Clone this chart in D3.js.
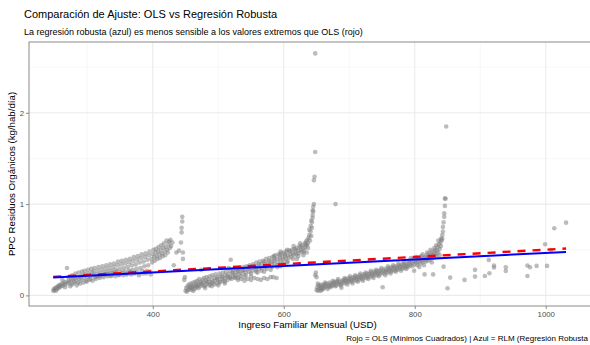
<!DOCTYPE html>
<html><head><meta charset="utf-8">
<script src="https://cdn.jsdelivr.net/npm/d3@7"></script>
<style>
html,body{margin:0;padding:0;background:#fff;}
svg{display:block;font-family:"Liberation Sans",Arial,sans-serif;}
</style></head>
<body><svg id="c" width="590" height="345"></svg>
<script>
// ---- data ----
const titleText = "Comparación de Ajuste: OLS vs Regresión Robusta";
const subtitleText = "La regresión robusta (azul) es menos sensible a los valores extremos que OLS (rojo)";
const xTitle = "Ingreso Familiar Mensual (USD)";
const yTitle = "PPC Residuos Orgánicos (kg/hab/día)";
const captionText = "Rojo = OLS (Mínimos Cuadrados) | Azul = RLM (Regresión Robusta";
const xTicks = [400, 600, 800, 1000];
const xMinor = [300, 500, 700, 900];
const yTicks = [0, 1, 2];
const yMinor = [0.5, 1.5, 2.5];
const xDomain = [211, 1070];
const yDomain = [-0.116, 2.775];

const group1 = [[248,0.05],[249,0.07],[250,0.06],[251,0.08],[252,0.05],[253,0.09],[254,0.07],[255,0.10],[256,0.08],[257,0.11],[258,0.09],[259,0.12],[260,0.10],[262,0.13],[263,0.11],[265,0.14],[266,0.12],[268,0.15],[269,0.30],[270,0.13],[272,0.16],[273,0.14],[275,0.17],[276,0.12],[278,0.18],[280,0.15],[281,0.19],[283,0.16],[285,0.20],[286,0.14],[288,0.18],[290,0.21],[291,0.17],[293,0.22],[295,0.19],[297,0.23],[298,0.16],[300,0.20],[302,0.24],[304,0.21],[305,0.18],[307,0.25],[309,0.22],[310,0.26],[312,0.20],[314,0.23],[316,0.27],[318,0.21],[320,0.24],[322,0.28],[324,0.22],[326,0.25],[328,0.29],[330,0.23],[332,0.26],[334,0.30],[336,0.21],[338,0.27],[340,0.31],[342,0.24],[344,0.28],[346,0.33],[348,0.22],[350,0.29],[352,0.34],[354,0.25],[356,0.30],[358,0.35],[360,0.23],[362,0.31],[364,0.36],[366,0.26],[368,0.33],[370,0.38],[372,0.24],[374,0.34],[376,0.39],[378,0.25],[380,0.36],[382,0.41],[384,0.27],[386,0.37],[388,0.42],[390,0.24],[392,0.39],[394,0.44],[396,0.26],[398,0.40],[400,0.45],[402,0.42],[404,0.47],[406,0.43],[408,0.48],[410,0.45],[412,0.50],[414,0.46],[416,0.52],[418,0.48],[420,0.53],[422,0.50],[424,0.56],[425,0.59],[427,0.61],[428,0.54],[430,0.58],[432,0.33],[436,0.47],[440,0.49],[443,0.58],[444,0.69],[444,0.74],[445,0.81],[445,0.86],[446,0.47],[446,0.40]];
const group1b = [[262,0.17],[266,0.09],[271,0.20],[274,0.10],[277,0.22],[279,0.13],[282,0.24],[284,0.11],[287,0.25],[289,0.13],[292,0.26],[294,0.14],[296,0.27],[299,0.15],[301,0.28],[303,0.17],[306,0.29],[308,0.16],[311,0.30],[313,0.18],[315,0.21],[317,0.31],[319,0.19],[321,0.22],[323,0.32],[325,0.20],[327,0.23],[329,0.33],[331,0.21],[333,0.24],[335,0.34],[337,0.22],[339,0.25],[341,0.35],[343,0.21],[345,0.26],[347,0.37],[349,0.23],[351,0.25],[353,0.38],[355,0.22],[357,0.26],[359,0.39],[361,0.24],[363,0.27],[365,0.40],[367,0.23],[369,0.28],[371,0.42],[373,0.25],[375,0.29],[377,0.43],[379,0.22],[381,0.30],[383,0.45],[385,0.24],[387,0.32],[389,0.46],[391,0.27],[393,0.33],[395,0.48],[397,0.23],[399,0.36],[401,0.50],[403,0.38],[405,0.51],[407,0.40],[409,0.53],[411,0.41],[413,0.55],[415,0.43],[417,0.57],[419,0.44],[421,0.60],[423,0.47],[426,0.52]];

const group2 = [[448,0.17],[449,0.20],[450,0.05],[451,0.08],[452,0.04],[453,0.10],[454,0.06],[455,0.12],[456,0.07],[457,0.09],[458,0.13],[459,0.06],[460,0.11],[461,0.08],[462,0.14],[463,0.10],[464,0.07],[465,0.15],[466,0.12],[467,0.09],[468,0.16],[469,0.11],[470,0.13],[471,0.18],[472,0.10],[473,0.15],[474,0.28],[475,0.12],[476,0.17],[477,0.14],[478,0.19],[480,0.11],[481,0.16],[482,0.20],[483,0.13],[485,0.18],[486,0.15],[487,0.21],[488,0.12],[490,0.17],[491,0.22],[492,0.14],[494,0.19],[495,0.16],[496,0.23],[498,0.13],[499,0.20],[500,0.17],[502,0.24],[503,0.15],[504,0.21],[506,0.18],[507,0.25],[508,0.16],[510,0.22],[511,0.19],[512,0.26],[514,0.17],[515,0.23],[516,0.30],[517,0.20],[518,0.27],[519,0.39],[520,0.18],[521,0.24],[522,0.21],[523,0.28],[525,0.19],[526,0.25],[527,0.22],[528,0.29],[530,0.17],[531,0.26],[532,0.23],[533,0.30],[535,0.18],[536,0.27],[537,0.24],[538,0.31],[540,0.16],[541,0.28],[542,0.25],[543,0.32],[545,0.18],[546,0.29],[547,0.26],[548,0.33],[550,0.17],[551,0.30],[552,0.27],[553,0.34],[555,0.19],[556,0.31],[557,0.28],[558,0.36],[560,0.18],[561,0.32],[562,0.29],[563,0.37],[565,0.17],[566,0.34],[567,0.30],[568,0.38],[570,0.19],[571,0.35],[572,0.31],[573,0.40],[575,0.18],[576,0.36],[577,0.33],[578,0.41],[580,0.20],[581,0.37],[582,0.34],[583,0.42],[584,0.20],[585,0.38],[586,0.35],[587,0.44],[589,0.19],[590,0.40],[591,0.36],[592,0.45],[594,0.41],[595,0.38],[596,0.46],[598,0.42],[599,0.39],[600,0.47],[602,0.43],[603,0.40],[604,0.48],[606,0.44],[607,0.41],[608,0.49],[610,0.45],[611,0.42],[612,0.50],[614,0.46],[615,0.44],[616,0.51],[618,0.47],[619,0.45],[620,0.52],[620,0.40],[622,0.49],[623,0.46],[624,0.54],[626,0.50],[627,0.48],[628,0.55],[630,0.52],[630,0.44],[631,0.49],[632,0.57],[633,0.53],[634,0.59],[635,0.55],[635,0.47],[636,0.61],[637,0.57],[638,0.63],[639,0.66],[640,0.60],[641,0.70],[642,0.65],[643,0.74],[643,0.80],[644,0.85],[644,0.88],[645,0.92],[645,0.97],[646,1.00],[646,1.26],[647,1.30],[648,1.57],[648,2.65]];
const group2b = [[458,0.09],[462,0.05],[466,0.10],[470,0.08],[474,0.13],[478,0.10],[482,0.15],[486,0.11],[490,0.14],[494,0.12],[498,0.18],[502,0.14],[506,0.20],[510,0.15],[514,0.21],[518,0.19],[522,0.25],[526,0.20],[530,0.27],[534,0.21],[538,0.28],[542,0.22],[546,0.31],[550,0.24],[554,0.32],[558,0.26],[562,0.34],[566,0.27],[570,0.37],[574,0.29],[578,0.38],[582,0.31],[586,0.40],[590,0.33],[594,0.44],[598,0.35],[602,0.45],[606,0.37],[610,0.48],[614,0.40],[618,0.50],[622,0.43],[626,0.53],[630,0.47],[634,0.56],[637,0.52],[639,0.72],[641,0.76],[642,0.82],[644,0.93]];
const group2c = [[480,0.08],[490,0.10],[500,0.11],[510,0.13],[530,0.19],[540,0.20],[550,0.21],[560,0.25],[570,0.26],[580,0.28],[585,0.43],[590,0.31],[595,0.32],[595,0.48],[600,0.34],[605,0.36],[605,0.50],[615,0.54],[625,0.57]];

const group3 = [[648,0.22],[649,0.25],[650,0.06],[650,0.20],[651,0.09],[652,0.05],[653,0.11],[654,0.07],[655,0.10],[656,0.08],[657,0.12],[658,0.06],[659,0.09],[660,0.11],[661,0.08],[662,0.12],[664,0.10],[665,0.13],[666,0.09],[668,0.12],[669,0.10],[670,0.14],[672,0.11],[673,0.13],[674,0.10],[676,0.14],[677,0.12],[678,0.15],[679,1.00],[680,0.11],[681,0.14],[682,0.16],[684,0.13],[685,0.15],[686,0.12],[688,0.085],[689,0.16],[690,0.14],[691,0.17],[692,0.13],[694,0.16],[695,0.18],[696,0.14],[698,0.17],[699,0.15],[700,0.19],[702,0.16],[703,0.18],[704,0.15],[706,0.20],[707,0.17],[708,0.19],[710,0.16],[711,0.21],[712,0.18],[714,0.20],[715,0.17],[716,0.22],[718,0.19],[719,0.21],[720,0.18],[722,0.23],[723,0.20],[724,0.22],[726,0.19],[727,0.24],[728,0.21],[730,0.23],[731,0.20],[732,0.25],[734,0.22],[735,0.24],[736,0.21],[738,0.26],[739,0.23],[740,0.25],[742,0.22],[743,0.27],[744,0.24],[746,0.26],[747,0.23],[748,0.28],[750,0.25],[751,0.09],[752,0.27],[753,0.24],[754,0.29],[756,0.26],[757,0.28],[758,0.25],[760,0.30],[761,0.27],[762,0.29],[764,0.26],[765,0.31],[766,0.28],[768,0.30],[769,0.27],[770,0.32],[772,0.29],[773,0.31],[774,0.28],[776,0.33],[777,0.30],[778,0.32],[780,0.29],[781,0.34],[782,0.31],[784,0.33],[785,0.30],[786,0.35],[788,0.32],[789,0.34],[790,0.31],[792,0.36],[793,0.33],[794,0.41],[795,0.35],[796,0.32],[797,0.37],[799,0.27],[800,0.34],[801,0.38],[802,0.36],[804,0.33],[805,0.39],[806,0.37],[808,0.35],[809,0.40],[810,0.43],[811,0.38],[812,0.36],[813,0.41],[815,0.23],[815,0.39],[816,0.42],[817,0.37],[818,0.44],[819,0.40],[820,0.38],[821,0.43],[822,0.46],[823,0.41],[824,0.39],[825,0.45],[826,0.42],[827,0.48],[828,0.23],[828,0.44],[829,0.41],[830,0.47],[831,0.50],[832,0.45],[833,0.43],[834,0.49],[835,0.53],[836,0.47],[837,0.56],[838,0.51],[839,0.58],[840,0.54],[840,0.62],[841,0.60],[842,0.66],[843,0.70],[843,0.75],[844,0.315],[844,0.80],[845,0.86],[845,0.90],[846,0.98],[846,1.06],[847,1.06],[848,1.85]];
const group3b = [[652,0.13],[656,0.05],[660,0.07],[663,0.14],[667,0.07],[671,0.09],[675,0.16],[679,0.10],[683,0.18],[687,0.11],[693,0.19],[697,0.12],[701,0.21],[705,0.13],[709,0.22],[713,0.15],[717,0.24],[721,0.16],[725,0.25],[729,0.18],[733,0.27],[737,0.19],[741,0.28],[745,0.21],[749,0.30],[755,0.22],[759,0.32],[763,0.24],[767,0.33],[771,0.26],[775,0.35],[779,0.27],[783,0.36],[787,0.29],[791,0.38],[798,0.40],[803,0.42],[807,0.31],[812,0.45],[814,0.33],[819,0.47],[824,0.50],[826,0.36],[830,0.52],[833,0.55],[836,0.60],[838,0.44],[842,0.62]];

const group4 = [[850,0.078],[854,0.195],[876,0.17],[892,0.28],[892,0.206],[907,0.213],[913,0.389],[914,0.243],[921,0.327],[921,0.305],[939,0.309],[939,0.268],[972,0.327],[972,0.213],[976,0.309],[986,0.323],[999,0.56],[1002,0.323],[1008,0.498],[1013,0.736],[1031,0.797]];

const olsLine = [[248, 0.203], [1031, 0.513]];
const rlmLine = [[248, 0.197], [1031, 0.476]];

// ---- drawing ----
const svg = d3.select("#c");
const P = {left: 29, top: 42, right: 591.6, bottom: 306};
const x = d3.scaleLinear().domain(xDomain).range([P.left, P.right]);
const y = d3.scaleLinear().domain(yDomain).range([P.bottom, P.top]);

svg.append("rect").attr("width",590).attr("height",345).attr("fill","#fff");

// grid
const grid = svg.append("g");
grid.selectAll(".xm").data(xMinor).join("line").attr("class","xm")
  .attr("x1",d=>x(d)).attr("x2",d=>x(d)).attr("y1",P.top).attr("y2",P.bottom)
  .attr("stroke","#f2f2f2").attr("stroke-width",0.6);
grid.selectAll(".ym").data(yMinor).join("line").attr("class","ym")
  .attr("x1",P.left).attr("x2",P.right).attr("y1",d=>y(d)).attr("y2",d=>y(d))
  .attr("stroke","#f2f2f2").attr("stroke-width",0.6);
grid.selectAll(".xM").data(xTicks).join("line").attr("class","xM")
  .attr("x1",d=>x(d)).attr("x2",d=>x(d)).attr("y1",P.top).attr("y2",P.bottom)
  .attr("stroke","#ebebeb").attr("stroke-width",1.1);
grid.selectAll(".yM").data(yTicks).join("line").attr("class","yM")
  .attr("x1",P.left).attr("x2",P.right).attr("y1",d=>y(d)).attr("y2",d=>y(d))
  .attr("stroke","#ebebeb").attr("stroke-width",1.1);

// points
const pts = group1.concat(group1b, group2, group2b, group2c, group3, group3b, group4);
svg.append("g").selectAll("circle").data(pts).join("circle")
  .attr("cx",d=>x(d[0])).attr("cy",d=>y(d[1])).attr("r",2.3)
  .attr("fill","#7f7f7f").attr("fill-opacity",0.52);

// lines
const lineGen = d3.line().x(d=>x(d[0])).y(d=>y(d[1]));
svg.append("path").datum(olsLine).attr("d",lineGen)
  .attr("fill","none").attr("stroke","#ff0000").attr("stroke-width",2.4)
  .attr("stroke-dasharray","8,7");
svg.append("path").datum(rlmLine).attr("d",lineGen)
  .attr("fill","none").attr("stroke","#0000ff").attr("stroke-width",2);

// border
svg.append("rect").attr("x",P.left).attr("y",P.top)
  .attr("width",P.right-P.left).attr("height",P.bottom-P.top)
  .attr("fill","none").attr("stroke","#8a8a8a").attr("stroke-width",1);

// axes
const xAxis = d3.axisBottom(x).tickValues(xTicks).tickSize(3).tickPadding(2).tickFormat(d3.format("d"));
const gx = svg.append("g").attr("transform",`translate(0,${P.bottom})`).call(xAxis);
gx.select(".domain").remove();
gx.selectAll("line").attr("stroke","#8a8a8a");
gx.selectAll("text").attr("fill","#4d4d4d").attr("font-size","7.8px")
  .attr("font-family","Liberation Sans, Arial, sans-serif");

const yAxis = d3.axisLeft(y).tickValues(yTicks).tickSize(3).tickPadding(2).tickFormat(d3.format("d"));
const gy = svg.append("g").attr("transform",`translate(${P.left},0)`).call(yAxis);
gy.select(".domain").remove();
gy.selectAll("line").attr("stroke","#8a8a8a");
gy.selectAll("text").attr("fill","#4d4d4d").attr("font-size","7.8px")
  .attr("font-family","Liberation Sans, Arial, sans-serif");

// texts
svg.append("text").attr("x",24).attr("y",18.3).attr("font-size","11px").attr("fill","#000").text(titleText);
svg.append("text").attr("x",24).attr("y",35).attr("font-size","9px").attr("fill","#000").text(subtitleText);
svg.append("text").attr("x",307.5).attr("y",328).attr("text-anchor","middle").attr("font-size","9.7px").attr("fill","#000").text(xTitle);
svg.append("text").attr("transform",`translate(15,${(P.top+P.bottom)/2}) rotate(-90)`)
  .attr("text-anchor","middle").attr("font-size","9.7px").attr("fill","#000").text(yTitle);
svg.append("text").attr("x",588).attr("y",341).attr("text-anchor","end").attr("font-size","8px").attr("fill","#000").text(captionText);
</script></body></html>
